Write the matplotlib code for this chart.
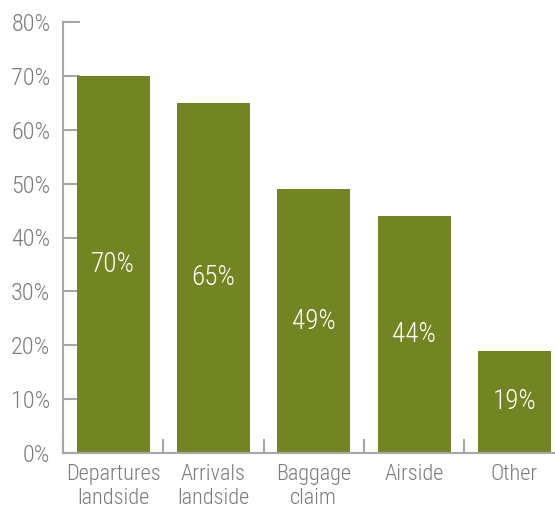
import matplotlib
matplotlib.use("Agg")
import matplotlib.pyplot as plt
import numpy as np

categories = ["Departures\nlandside", "Arrivals\nlandside", "Baggage\nclaim", "Airside", "Other"]
values = [70, 65, 49, 44, 19]
yticks = [0, 10, 20, 30, 40, 50, 60, 70, 80]

plt.rcParams['font.family'] = ['Roboto Condensed', 'DejaVu Sans']
plt.rcParams['font.weight'] = 300

bar_color = "#738522"
axis_color = "#a6a6a6"
text_color = "#7a7a7a"

fig = plt.figure(figsize=(5.55, 5.07), dpi=100)
ax = fig.add_axes([63/555, 54/507, 501.5/555, 431/507])
x = np.arange(len(categories))
ax.bar(x, values, width=0.727, color=bar_color, zorder=2)
ax.set_xlim(-0.5, len(categories) - 0.5)
ax.set_ylim(0, 80)

for xi, v in zip(x, values):
    ax.text(xi, v / 2, f"{v}%", ha="center", va="center", color="white",
            fontsize=19.5, fontweight=300, zorder=3)

ax.set_yticks(yticks)
ax.set_yticklabels([f"{t}%" for t in yticks], fontweight=300)
ax.tick_params(axis="y", direction="in", length=12, width=1.5, color=axis_color,
               labelsize=17.5, labelcolor=text_color, pad=9)
ax.set_xticks(x)
ax.set_xticklabels(categories, linespacing=1.15, fontweight=300)
ax.tick_params(axis="x", length=0, labelsize=16, labelcolor=text_color, pad=8)
ax.set_xticks(np.arange(len(categories) + 1) - 0.5, minor=True)
ax.tick_params(axis="x", which="minor", direction="in", length=10, width=1.5, color=axis_color)

for s in ["top", "right"]:
    ax.spines[s].set_visible(False)
for s in ["left", "bottom"]:
    ax.spines[s].set_color(axis_color)
    ax.spines[s].set_linewidth(1.5)

fig.savefig("out.png", dpi=100)
